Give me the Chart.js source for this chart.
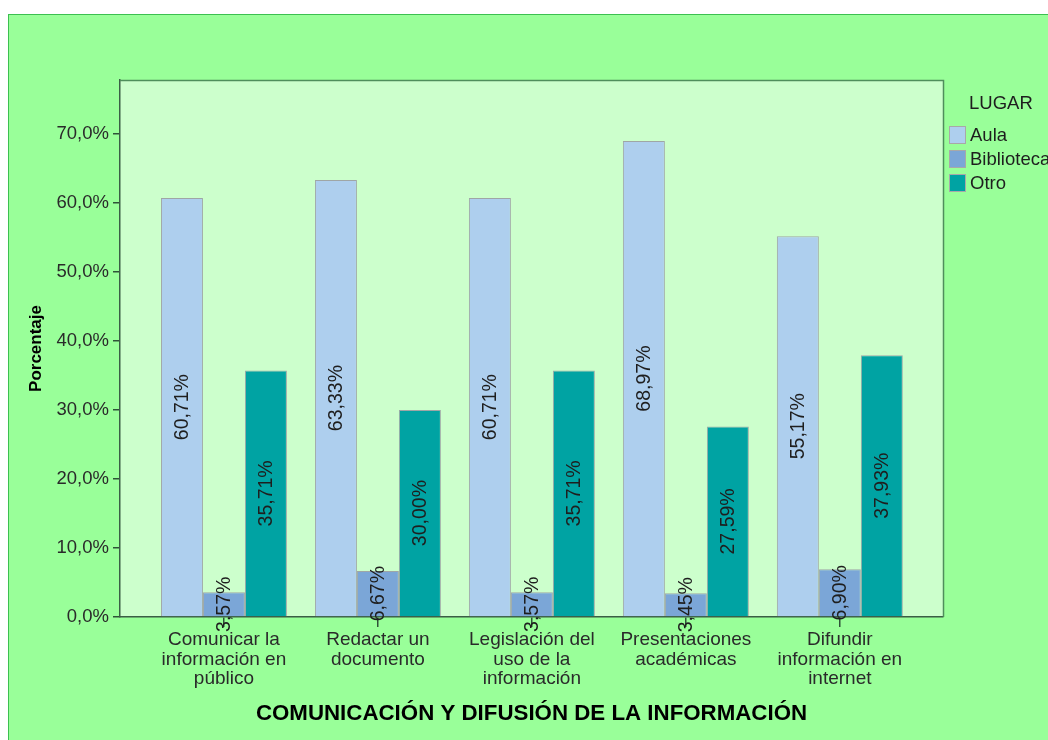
<!DOCTYPE html>
<html>
<head>
<meta charset="utf-8">
<script src="https://cdn.jsdelivr.net/npm/chart.js@4"></script>
<style>
  html, body { margin: 0; padding: 0; background: #fff; overflow: hidden; }
  #wrap { width: 1048px; height: 740px; }
</style>
</head>
<body>
<div id="wrap"><canvas id="grafico"></canvas></div>
<script>
// categorias del eje X (una linea por elemento)
var categorias = [
  ['Comunicar la', 'información en', 'público'],
  ['Redactar un', 'documento'],
  ['Legislación del', 'uso de la', 'información'],
  ['Presentaciones', 'académicas'],
  ['Difundir', 'información en', 'internet']
];
var lugares = ['Aula', 'Biblioteca', 'Otro'];
var aula       = [60.71, 63.33, 60.71, 68.97, 55.17];
var biblioteca = [3.57, 6.67, 3.57, 3.45, 6.90];
var otro       = [35.71, 30.00, 35.71, 27.59, 37.93];
var marcasY = [0, 10, 20, 30, 40, 50, 60, 70];

var colores = ['#aecfee', '#7ba6d7', '#00a3a3'];
var fuente = "'Liberation Sans', Arial, sans-serif";

function puntos(valores) {
  return valores.map(function (v, i) { return { x: i, y: v }; });
}

function porcentaje(v, dec) {
  return v.toFixed(dec).replace('.', ',') + '%';
}

// fondo verde, marco exterior y area del grafico
var fondo = {
  id: 'fondo',
  beforeDraw: function (chart) {
    var ctx = chart.ctx, a = chart.chartArea;
    ctx.save();
    ctx.fillStyle = '#ffffff';
    ctx.fillRect(0, 0, chart.width, chart.height);
    ctx.fillStyle = '#99ff99';
    ctx.fillRect(8, 14, chart.width, chart.height);
    ctx.strokeStyle = '#3cc050';
    ctx.lineWidth = 1;
    ctx.strokeRect(8.5, 14.5, chart.width + 10, chart.height + 10);
    ctx.fillStyle = '#ccffcc';
    ctx.fillRect(a.left, a.top, a.right - a.left, a.bottom - a.top);
    ctx.restore();
  },
  afterDraw: function (chart) {
    var ctx = chart.ctx, a = chart.chartArea;
    ctx.save();
    ctx.strokeStyle = '#4f8e5c';
    ctx.lineWidth = 1.5;
    ctx.beginPath();
    ctx.moveTo(a.left, a.top + 0.5);
    ctx.lineTo(a.right + 0.5, a.top + 0.5);
    ctx.lineTo(a.right + 0.5, a.bottom);
    ctx.stroke();
    ctx.restore();
  }
};

// etiquetas verticales con el valor de cada barra
var etiquetas = {
  id: 'etiquetas',
  afterDatasetsDraw: function (chart) {
    var ctx = chart.ctx;
    ctx.save();
    ctx.font = '19.5px ' + fuente;
    ctx.fillStyle = '#1e1e1e';
    ctx.textAlign = 'center';
    ctx.textBaseline = 'middle';
    chart.data.datasets.forEach(function (ds, d) {
      chart.getDatasetMeta(d).data.forEach(function (bar, i) {
        var p = bar.getProps(['x', 'y', 'base'], true);
        ctx.save();
        ctx.translate(p.x, (p.y + p.base) / 2);
        ctx.rotate(-Math.PI / 2);
        ctx.fillText(porcentaje(ds.data[i].y, 2), 0, 1);
        ctx.restore();
      });
    });
    ctx.restore();
  }
};

// leyenda a la derecha
var leyenda = {
  id: 'leyenda',
  afterDraw: function (chart) {
    var ctx = chart.ctx;
    var x0 = chart.chartArea.right + 6;
    ctx.save();
    ctx.font = '18.5px ' + fuente;
    ctx.fillStyle = '#1e1e1e';
    ctx.textBaseline = 'middle';
    ctx.textAlign = 'left';
    ctx.fillText('LUGAR', x0 + 20, 104);
    chart.data.datasets.forEach(function (ds, d) {
      var cy = 135 + d * 24;
      ctx.fillStyle = ds.backgroundColor;
      ctx.fillRect(x0, cy - 9, 17, 18);
      ctx.strokeStyle = '#a8a8a8';
      ctx.lineWidth = 1;
      ctx.strokeRect(x0 + 0.5, cy - 8.5, 16, 17);
      ctx.fillStyle = '#1e1e1e';
      ctx.fillText(ds.label, x0 + 21, cy + 1);
    });
    ctx.restore();
  }
};

var ctx = document.getElementById('grafico').getContext('2d');
var grafico = new Chart(ctx, {
  type: 'bar',
  data: {
    datasets: [
      { label: lugares[0], data: puntos(aula), backgroundColor: colores[0] },
      { label: lugares[1], data: puntos(biblioteca), backgroundColor: colores[1] },
      { label: lugares[2], data: puntos(otro), backgroundColor: colores[2] }
    ]
  },
  options: {
    responsive: true,
    maintainAspectRatio: false,
    animation: false,
    devicePixelRatio: 1,
    layout: { padding: { top: 80, right: 105, bottom: 0, left: 0 } },
    datasets: {
      bar: {
        categoryPercentage: 0.818,
        barPercentage: 1,
        borderWidth: 1,
        borderColor: '#9fa6a6'
      }
    },
    plugins: {
      legend: { display: false },
      tooltip: { enabled: false }
    },
    scales: {
      x: {
        type: 'linear',
        min: -0.675,
        max: 4.67,
        offset: false,
        afterBuildTicks: function (s) {
          s.ticks = categorias.map(function (c, i) { return { value: i }; });
        },
        afterFit: function (s) { s.height = 123; },
        ticks: {
          autoSkip: false,
          maxRotation: 0,
          padding: 3,
          color: '#2a2a2a',
          font: { family: fuente, size: 19, lineHeight: 1.03 },
          callback: function (v) { return categorias[v]; }
        },
        grid: {
          offset: false,
          drawOnChartArea: false,
          drawTicks: true,
          tickLength: 10,
          color: '#2f5238',
          lineWidth: 1.5
        },
        border: { color: '#3b5e45', width: 1.5 },
        title: {
          display: true,
          text: 'COMUNICACIÓN Y DIFUSIÓN DE LA INFORMACIÓN',
          color: '#000',
          font: { family: fuente, size: 22.3, weight: 'bold' },
          padding: { top: 0, bottom: 12.6 }
        }
      },
      y: {
        min: 0,
        max: 77.8,
        afterBuildTicks: function (s) {
          s.ticks = marcasY.map(function (v) { return { value: v }; });
        },
        afterFit: function (s) { s.width = 120; },
        ticks: {
          padding: 4,
          color: '#2a2a2a',
          font: { family: fuente, size: 18.5 },
          callback: function (v) { return porcentaje(v, 1); }
        },
        grid: {
          drawOnChartArea: false,
          drawTicks: true,
          tickLength: 7,
          color: '#2f5238',
          lineWidth: 1.5
        },
        border: { color: '#3b5e45', width: 1.5 },
        title: {
          display: true,
          text: 'Porcentaje',
          color: '#000',
          font: { family: fuente, size: 17, weight: 'bold' },
          padding: { top: 26.5, bottom: 0 }
        }
      }
    }
  },
  plugins: [fondo, etiquetas, leyenda]
});
</script>
</body>
</html>
